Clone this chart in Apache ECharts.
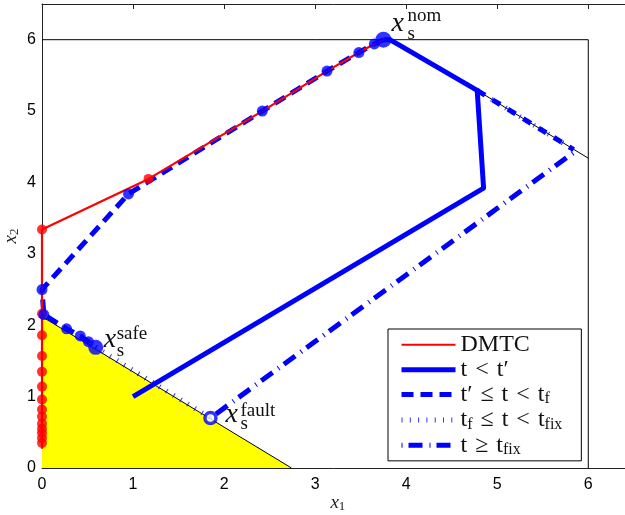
<!DOCTYPE html>
<html>
<head>
<meta charset="utf-8">
<script src="https://cdn.jsdelivr.net/npm/echarts@6/dist/echarts.min.js"></script>
<style>
  html, body { margin: 0; padding: 0; background: #fff; }
  #chart { width: 625px; height: 515px; }
</style>
</head>
<body>
<div id="chart"></div>
<script>
// Trajectories in the (x1, x2) state plane
const dmtcPath = [[0, 0.27], [0, 3.34], [1.17, 4.05], [2.42, 5.0], [3.13, 5.56], [3.48, 5.82], [3.65, 5.94], [3.75, 6.0]];
const dmtcDots = [[0, 3.34], [1.17, 4.05], [0, 2.16], [0, 1.86], [0, 1.57], [0, 1.35], [0, 1.14], [0, 0.96],
                  [0, 0.82], [0, 0.72], [0, 0.62], [0, 0.55], [0, 0.49], [0, 0.42], [0, 0.35]];

const beforeSwitch = [[1.0, 1.0], [4.85, 3.92], [4.78, 5.29], [3.93, 5.92], [3.82, 6.0], [3.75, 6.0]];
const towardSafe = [[3.75, 6.0], [3.65, 5.94], [3.48, 5.82], [3.13, 5.56], [2.42, 5.0], [0.95, 3.84],
                    [0, 2.5], [0.02, 2.15], [0.27, 1.95], [0.42, 1.85], [0.51, 1.77], [0.59, 1.69]];
const towardSafeDots = [[3.65, 5.94], [3.48, 5.82], [3.13, 5.56], [2.42, 5.0], [0.95, 3.84],
                        [0, 2.5], [0.02, 2.15], [0.27, 1.95], [0.42, 1.85], [0.51, 1.77]];
const alongUpperEdge = [[4.78, 5.29], [5.84, 4.46]];
const slideToFault = [[0.59, 1.69], [1.85, 0.70]];
const afterFix = [[1.85, 0.70], [5.84, 4.42]];

const xsNom = [3.75, 6.0];
const xsSafe = [0.59, 1.69];
const xsFault = [1.85, 0.70];

// Safe set and state constraints
const safeSet = [[0, 2.12], [2.74, 0]];
const stateBox = [[0, 6], [6, 6], [6, 0]];
const upperEdge = [[4.78, 5.29], [6, 4.34]];

const xRange = [0, 6.5];
const yRange = [0, 6.5];
const tickStep = 1;

// legend entries; relation symbols get three-per-em spaces around them
const SP = '\u2004';
const legendNames = ['DMTC', 't < t′', 't′ ≤ t < tf', 'tf ≤ t < tfix', 't ≥ tfix'];
const legendText = {
  'DMTC': '{r|DMTC}',
  't < t′': `{r|t${SP}<${SP}t′}`,
  't′ ≤ t < tf': `{r|t′${SP}≤${SP}t${SP}<${SP}t}{s|f}`,
  'tf ≤ t < tfix': `{r|t}{s|f}{r|${SP}≤${SP}t${SP}<${SP}t}{s|fix}`,
  't ≥ tfix': `{r|t${SP}≥${SP}t}{s|fix}`
};

const BLUE = '#0000ff';
const RED = '#ff0000';
const SERIF = 'Liberation Serif';

const chart = echarts.init(document.getElementById('chart'), null, { renderer: 'canvas' });

function thinLine(data, z) {
  return { type: 'line', data, symbol: 'none', silent: true, z,
           lineStyle: { color: '#000', width: 1 } };
}

const axisNameRich = {
  x: { fontFamily: SERIF, fontStyle: 'italic', fontSize: 19, color: '#222', lineHeight: 20 },
  s: { fontFamily: SERIF, fontSize: 13, color: '#222', lineHeight: 13, verticalAlign: 'bottom' }
};

const option = {
  animation: false,
  backgroundColor: '#fff',
  grid: { left: 42, right: -8.8, top: 4, bottom: 47, containLabel: false, outerBoundsMode: 'none' },
  xAxis: [{
    type: 'value', min: xRange[0], max: xRange[1], interval: tickStep, position: 'bottom',
    axisLine: { show: true, onZero: false, lineStyle: { color: '#222', width: 1 } },
    axisTick: { show: false },
    splitLine: { show: false },
    axisLabel: { fontFamily: 'Liberation Sans', fontSize: 16, color: '#000', margin: 9, showMaxLabel: false },
    name: '{x|x}{s|1}', nameLocation: 'middle', nameGap: 25, nameMoveOverlap: false,
    nameTextStyle: { rich: axisNameRich }
  }, {
    type: 'value', min: xRange[0], max: xRange[1], interval: tickStep, position: 'top',
    axisLine: { show: true, onZero: false, lineStyle: { color: '#222', width: 1 } },
    axisTick: { show: true, inside: true, length: 5, lineStyle: { color: '#222' } },
    axisLabel: { show: false }, splitLine: { show: false }
  }],
  yAxis: [{
    type: 'value', min: yRange[0], max: yRange[1], interval: tickStep,
    axisLine: { show: true, onZero: false, lineStyle: { color: '#222', width: 1 } },
    axisTick: { show: false },
    splitLine: { show: false },
    axisLabel: { fontFamily: 'Liberation Sans', fontSize: 16, color: '#000', margin: 6, showMaxLabel: false },
    name: '{x|x}{s|2}', nameLocation: 'middle', nameGap: 21, nameRotate: 90, nameMoveOverlap: false,
    nameTextStyle: { rich: axisNameRich }
  }],
  legend: {
    data: legendNames,
    orient: 'vertical',
    left: 388, top: 329,
    padding: [3.75, 19, 3, 11],
    itemGap: 0.9,
    itemWidth: 54, itemHeight: 14,
    backgroundColor: '#fff',
    borderColor: '#000', borderWidth: 1, borderRadius: 0,
    selectedMode: false,
    itemStyle: { opacity: 0 },
    lineStyle: { width: 'inherit' },
    formatter: name => legendText[name],
    textStyle: {
      rich: {
        r: { fontFamily: SERIF, fontSize: 24, color: '#111', lineHeight: 25 },
        s: { fontFamily: SERIF, fontSize: 16, color: '#111', lineHeight: 16, verticalAlign: 'bottom' }
      }
    }
  },
  series: [
    // safe set (yellow) bounded by its hypotenuse
    { type: 'line', data: safeSet, symbol: 'none', silent: true, z: 1,
      lineStyle: { color: '#000', width: 1 },
      areaStyle: { color: '#ffff00', opacity: 1, origin: 'start' } },
    thinLine(stateBox, 1),
    thinLine(upperEdge, 1),

    { name: 't < t′', type: 'line', data: beforeSwitch, symbol: 'none', z: 3,
      itemStyle: { color: BLUE },
      lineStyle: { color: BLUE, width: 5, join: 'round' } },
    { name: 't′ ≤ t < tf', type: 'line', data: towardSafe, symbol: 'none', z: 3,
      itemStyle: { color: BLUE },
      lineStyle: { color: BLUE, width: 5, type: [12, 7] } },
    { name: 't′ ≤ t < tf', type: 'line', data: alongUpperEdge, symbol: 'none', z: 3,
      itemStyle: { color: BLUE },
      lineStyle: { color: BLUE, width: 5, type: [9, 9] } },
    { name: 'tf ≤ t < tfix', type: 'line', data: slideToFault, symbol: 'none', z: 3,
      itemStyle: { color: BLUE },
      lineStyle: { color: BLUE, width: 5, type: [1, 7.3], opacity: 0.8 } },
    { name: 'tf ≤ t < tfix', type: 'line', data: alongUpperEdge, symbol: 'none', z: 3,
      itemStyle: { color: BLUE },
      lineStyle: { color: BLUE, width: 5, type: [1, 7.3], opacity: 0.8 } },
    { name: 't ≥ tfix', type: 'line', data: afterFix, symbol: 'none', z: 3,
      itemStyle: { color: BLUE },
      lineStyle: { color: BLUE, width: 5, type: [1, 6, 14, 7] } },

    { name: 'DMTC', type: 'line', data: dmtcPath, symbol: 'none', z: 4,
      itemStyle: { color: RED },
      lineStyle: { color: RED, width: 2.2 } },
    { type: 'scatter', data: dmtcDots, symbol: 'circle', symbolSize: 10, z: 5, silent: true,
      itemStyle: { color: RED } },
    { type: 'scatter', data: towardSafeDots, symbol: 'circle', symbolSize: 11, z: 6, silent: true,
      itemStyle: { color: BLUE } },
    { type: 'scatter', data: [xsNom], symbol: 'circle', symbolSize: 16, z: 7, silent: true,
      itemStyle: { color: BLUE } },
    { type: 'scatter', data: [xsSafe], symbol: 'circle', symbolSize: 15, z: 7, silent: true,
      itemStyle: { color: BLUE } },
    { type: 'scatter', data: [xsFault], symbol: 'circle', symbolSize: 11, z: 7, silent: true,
      itemStyle: { color: '#fff', borderColor: BLUE, borderWidth: 3.5 } }
  ]
};

chart.setOption(option);

// x_s labels with stacked super/subscripts next to the three special states
function stateLabel(point, sup, o) {
  const p = chart.convertToPixel({ gridIndex: 0 }, point);
  const base = { fontFamily: SERIF, fill: '#111', align: 'left', verticalAlign: 'middle' };
  return [
    { type: 'text', z: 100, x: p[0] + o.x[0], y: p[1] + o.x[1],
      style: Object.assign({}, base, { text: 'x', fontSize: 28, fontStyle: 'italic' }) },
    { type: 'text', z: 100, x: p[0] + o.sub[0], y: p[1] + o.sub[1],
      style: Object.assign({}, base, { text: 's', fontSize: 19 }) },
    { type: 'text', z: 100, x: p[0] + o.sup[0], y: p[1] + o.sup[1],
      style: Object.assign({}, base, { text: sup, fontSize: 19 }) }
  ];
}

chart.setOption({
  graphic: [].concat(
    stateLabel(xsNom, 'nom', { x: [8, -16], sub: [24, -6], sup: [24, -24] }),
    stateLabel(xsSafe, 'safe', { x: [8, -8], sub: [21, 4], sup: [21, -13] }),
    stateLabel(xsFault, 'fault', { x: [15, -3], sub: [30, 6], sup: [30, -7] })
  )
});
</script>
</body>
</html>
